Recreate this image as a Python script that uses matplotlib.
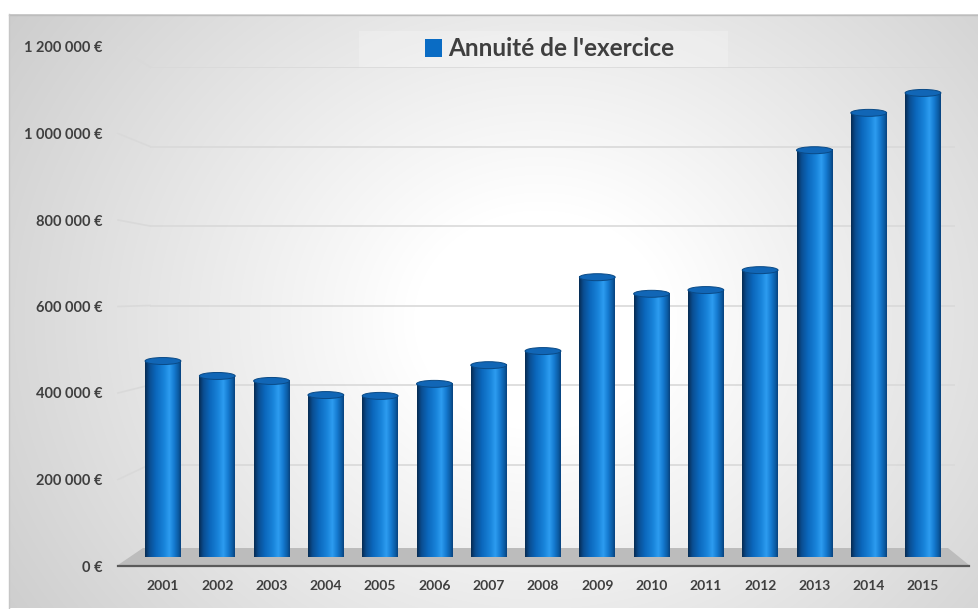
import numpy as np
import matplotlib
matplotlib.use("Agg")
import matplotlib.pyplot as plt
from matplotlib.colors import LinearSegmentedColormap
from matplotlib.patches import Ellipse, Polygon, Rectangle, Patch
from matplotlib.path import Path

# Data
years = ["2001", "2002", "2003", "2004", "2005", "2006", "2007", "2008",
         "2009", "2010", "2011", "2012", "2013", "2014", "2015"]
annuite = [465000, 429000, 417000, 383000, 381000, 410000, 455000, 489000,
           667000, 627000, 636000, 684000, 973000, 1063000, 1111000]
series_name = "Annuité de l'exercice"
y_ticks = [0, 200000, 400000, 600000, 800000, 1000000, 1200000]

plt.rcParams['font.family'] = ['Lato', 'DejaVu Sans']
txt_color = '#3f3f3f'

W, H = 979, 609
fig = plt.figure(figsize=(W / 100, H / 100), dpi=100)
fig.patch.set_facecolor('white')

def rect(x0, y0, x1, y1):
    # pixel box (top-left origin) -> figure fraction rect
    return [x0 / W, 1 - y1 / H, (x1 - x0) / W, (y1 - y0) / H]

# Background axes in pixel coords
bg = fig.add_axes([0, 0, 1, 1])
bg.axis('off')

# radial gradient background
gx, gy = np.meshgrid(np.arange(9, W), np.arange(14, 608))
r = np.hypot((gx - 540) / 1.15, gy - 320)
t = np.clip((r - 110) / 500, 0, 1)
shade = 1 - t * (1 - 0.78)
bg.imshow(np.dstack([shade, shade, shade]), extent=[9, W, 608, 14],
          aspect='auto', interpolation='bilinear', zorder=0)
bg.plot([9, W], [14.5, 14.5], color='#bdbdbd', lw=1, zorder=1)
bg.plot([9.5, 9.5], [14, 608], color='#c6c6c6', lw=1, zorder=1)
bg.set_xlim(0, W)
bg.set_ylim(H, 0)

# legend background band
bg.add_patch(Rectangle((359, 31), 369, 37, facecolor='white', alpha=0.22,
                       edgecolor='none', zorder=2))

# floor
bg.add_patch(Polygon([(143, 548), (948, 548), (969, 565), (118, 565)],
                     closed=True, facecolor='#bcbcbc', edgecolor='none', zorder=2))
bg.plot([118, 969], [565.5, 565.5], color='#5a5a5a', lw=1.6, zorder=3)

# front axes: value labels
ax_front = fig.add_axes(rect(118, 47, 969, 566))
ax_front.set_ylim(0, 1200000)
ax_front.set_xlim(0, 1)
ax_front.patch.set_visible(False)
for s in ax_front.spines.values():
    s.set_visible(False)
ax_front.set_xticks([])
ax_front.set_yticks(y_ticks)
ax_front.set_yticklabels([f"{v:,.0f}".replace(',', ' ') + " €" for v in y_ticks],
                         fontsize=10.5, fontweight='bold', color=txt_color)
ax_front.tick_params(axis='y', length=0, pad=11)

# back wall axes: gridlines
ax_back = fig.add_axes(rect(150, 67, 955, 544))
ax_back.set_ylim(0, 1200000)
ax_back.set_xlim(0, 1)
ax_back.patch.set_visible(False)
ax_back.axis('off')
to_bg = bg.transData.inverted()
for v in y_ticks[1:]:
    ax_back.axhline(v, color='#d9d9d9', lw=1.2, zorder=1)
    p0 = to_bg.transform(ax_front.transData.transform((0, v)))
    p1 = to_bg.transform(ax_back.transData.transform((0, v)))
    bg.plot([p0[0], p1[0]], [p0[1], p1[1]], color='#d9d9d9', lw=1.2, zorder=1)

# bars axes
ax = fig.add_axes(rect(135.85, 56, 950.15, 554))
ax.patch.set_visible(False)
for s in ax.spines.values():
    s.set_visible(False)

cyl = LinearSegmentedColormap.from_list('cyl', [
    (0.0, '#062c54'), (0.12, '#0a4e92'), (0.3, '#0b67bc'),
    (0.55, '#1a86dc'), (0.68, '#2d9cf0'), (0.82, '#157ad0'),
    (0.94, '#0b5aa2'), (1.0, '#084480')])
grad = cyl(np.linspace(0, 1, 64))[None, :, :3]

bw = 0.66
e = 8400  # half height of ellipse in value units
for i, v in enumerate(annuite):
    x0, x1 = i - bw / 2, i + bw / 2
    ang = np.linspace(np.pi, 2 * np.pi, 40)
    verts = list(zip(i + bw / 2 * np.cos(ang), e * np.sin(ang)))
    verts += [(x1, v), (x0, v), verts[0]]
    clip = Path(verts, closed=True)
    im = ax.imshow(grad, extent=[x0, x1, -e, v], aspect='auto',
                   interpolation='bilinear', zorder=3, clip_on=False)
    im.set_clip_path(clip, transform=ax.transData)
    ax.add_patch(Ellipse((i, v), bw, 2 * e, facecolor='#1166b6',
                         edgecolor='#0a4a86', lw=0.7, zorder=4, clip_on=False))

ax.set_xlim(-0.5, len(years) - 0.5)
ax.set_ylim(0, 1200000)
ax.set_aspect('auto')
ax.set_yticks([])
ax.set_xticks(range(len(years)))
ax.set_xticklabels(years, fontsize=10, fontweight='bold', color=txt_color)
ax.tick_params(axis='x', length=0, pad=19)

# legend
leg = ax_front.legend(handles=[Patch(facecolor='#0a6cc4', edgecolor='none',
                                     label=series_name)],
                      loc='center', bbox_to_anchor=(550 / W, 1 - 49 / H),
                      bbox_transform=fig.transFigure, frameon=False,
                      prop={'size': 17.5, 'weight': 'bold'},
                      handlelength=0.7, handleheight=0.7, handletextpad=0.25)
for tx in leg.get_texts():
    tx.set_color(txt_color)

fig.savefig('out.png', dpi=100)
